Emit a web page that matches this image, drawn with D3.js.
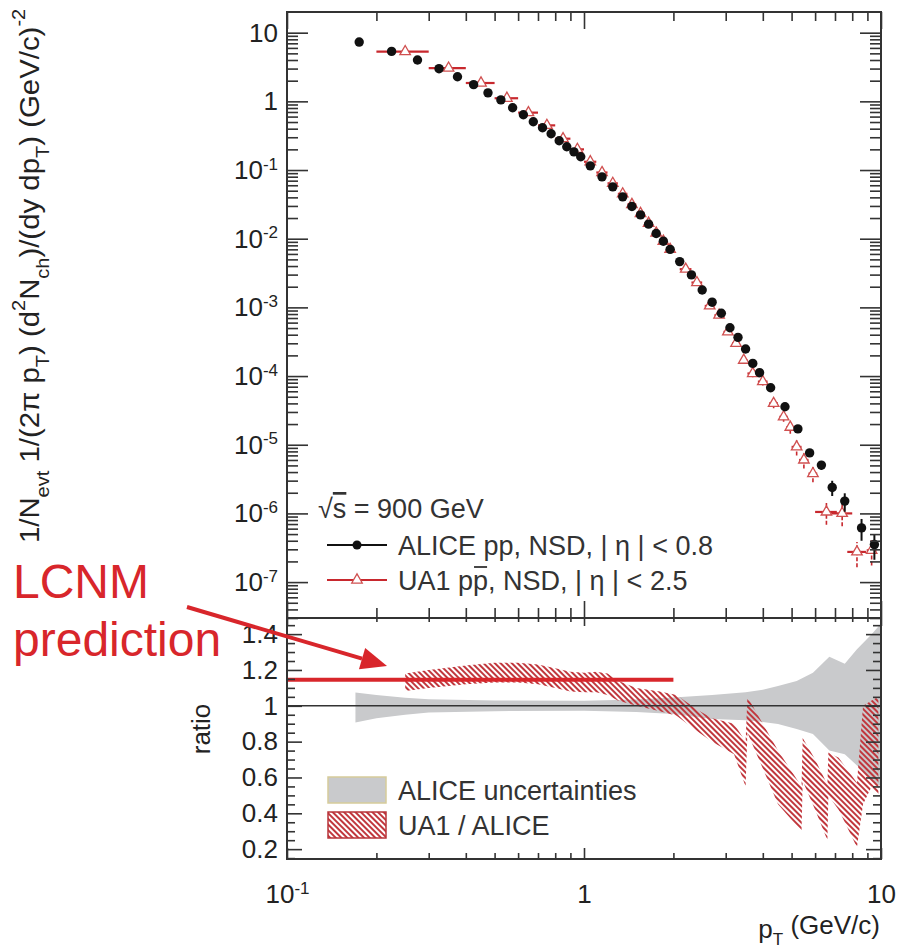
<!DOCTYPE html>
<html>
<head>
<meta charset="utf-8">
<script src="https://cdn.jsdelivr.net/npm/d3@7"></script>
<style>
body { margin: 0; background: #fff; }
svg { font-family: "Liberation Sans", Arial, sans-serif; }
</style>
</head>
<body>
<svg id="chart" width="901" height="951"></svg>
<script>
// ALICE pp, NSD, |eta| < 0.8  (sqrt(s) = 900 GeV)
var alicePt  = [0.175,0.225,0.275,0.325,0.375,0.425,0.475,0.525,0.575,0.625,0.675,0.725,0.775,0.825,0.875,0.925,0.975,
                1.05,1.15,1.25,1.35,1.45,1.55,1.65,1.75,1.85,1.95,
                2.1,2.3,2.5,2.7,2.9,3.1,3.3,3.5,3.7,3.9,
                4.25,4.75,5.25,5.75,6.3,6.85,7.55,8.6,9.5];
var aliceVal = [7.3,5.34,4.0,2.99,2.28,1.75,1.33,1.05,0.806,0.638,0.505,0.412,0.337,0.267,0.218,0.184,0.156,
                0.115,0.0796,0.0569,0.0407,0.0294,0.0222,0.0163,0.0119,0.0092,0.0070,
                0.00464,0.00297,0.00179,0.00119,0.00082,0.000506,0.000366,0.000248,0.000153,0.000112,
                6.75e-5,3.57e-5,1.7e-5,7.6e-6,5.05e-6,2.39e-6,1.51e-6,6.15e-7,3.52e-7];
// relative error, only visible at high pT
var aliceErr = [0,0,0,0,0,0,0,0,0,0,0,0,0,0,0,0,0,
                0,0,0,0,0,0,0,0,0,0,
                0,0,0,0,0,0,0,0,0,0,
                0,0,0.08,0.1,0.15,0.25,0.3,0.35,0.4];

// UA1 p pbar, NSD, |eta| < 2.5
var ua1Pt  = [0.25,0.35,0.45,0.55,0.65,0.75,0.85,0.95,1.05,1.15,1.25,1.35,1.45,1.55,1.65,1.75,1.85,1.95,
              2.2,2.4,2.65,2.85,3.05,3.25,3.45,3.7,4.0,4.35,4.7,4.95,5.2,5.5,5.9,6.55,7.4,8.3,9.3];
var ua1Val = [5.3,3.05,1.85,1.11,0.685,0.447,0.286,0.2,0.132,0.092,0.064,0.045,0.0315,0.0233,0.0168,0.0121,0.0092,0.0070,
              3.6e-3,2.3e-3,1.05e-3,7.7e-4,4.4e-4,3.0e-4,1.7e-4,1.09e-4,8.3e-5,4.0e-5,2.55e-5,1.8e-5,9.3e-6,6.0e-6,3.8e-6,1.05e-6,1.0e-6,2.75e-7,2.9e-7];
var ua1Dx  = [0.05,0.05,0.05,0.05,0.05,0.05,0.05,0.05,0.05,0.05,0.05,0.05,0.05,0.05,0.05,0.05,0.05,0.05,
              0.1,0.1,0.1,0.1,0.1,0.1,0.1,0.15,0.15,0.15,0.15,0.15,0.2,0.2,0.2,0.55,0.6,0.6,0.35];
var ua1Err = [0,0,0,0,0,0,0,0,0,0,0,0,0,0,0,0,0,0,
              0.05,0.05,0.08,0.08,0.08,0.1,0.1,0.12,0.12,0.15,0.15,0.2,0.25,0.25,0.25,0.35,0.35,0.4,0.4];

// lower panel: ALICE uncertainty band
var bandPt = [0.17,0.2,0.25,0.3,0.5,1.0,1.5,2.0,2.7,3.5,4.0,4.5,5.2,5.9,6.7,7.55,8.3,9.3,10];
var bandLo = [0.907,0.93,0.95,0.963,0.97,0.972,0.965,0.954,0.926,0.92,0.91,0.898,0.87,0.843,0.75,0.73,0.667,0.583,0.55];
var bandHi = [1.074,1.06,1.045,1.037,1.03,1.028,1.035,1.046,1.06,1.075,1.089,1.11,1.139,1.185,1.274,1.235,1.315,1.40,1.46];

// lower panel: UA1 / ALICE ratio band
var ratioPt = [0.25,0.3,0.4,0.5,0.6,0.7,0.8,0.9,1.0,1.1,1.2,1.3,1.5,1.8,2.05,2.4,2.7,3.2,3.5,3.55,
               4.0,4.5,5.4,5.45,6.0,6.6,6.65,7.2,8.3,8.7,9.3,9.8];
var ratioLo = [1.083,1.10,1.12,1.13,1.13,1.12,1.10,1.08,1.075,1.075,1.06,1.03,1.0,0.97,0.945,0.86,0.80,0.73,0.55,0.85,
               0.65,0.45,0.30,0.58,0.42,0.25,0.50,0.42,0.21,0.45,0.55,0.50];
var ratioHi = [1.18,1.20,1.225,1.24,1.24,1.23,1.21,1.19,1.185,1.19,1.18,1.14,1.10,1.08,1.06,0.98,0.93,0.90,0.80,1.05,
               0.90,0.75,0.55,0.82,0.70,0.56,0.74,0.71,0.57,1.0,1.03,1.05];

// LCNM prediction
var lcnmPt = [0.1, 2.0];
var lcnmRatio = [1.145, 1.145];

// ticks
var xTickVals = [0.1, 1, 10];
var xTickLabels = [["10","-1"], ["1",""], ["10",""]];
var yTopTickVals = [10, 1, 1e-1, 1e-2, 1e-3, 1e-4, 1e-5, 1e-6, 1e-7];
var yTopTickLabels = [["10",""],["1",""],["10","-1"],["10","-2"],["10","-3"],["10","-4"],["10","-5"],["10","-6"],["10","-7"]];
var yRatTickVals = [0.2, 0.4, 0.6, 0.8, 1, 1.2, 1.4];
var yRatTickLabels = ["0.2","0.4","0.6","0.8","1","1.2","1.4"];

var L = 287, R = 881, T1 = 12, B1 = 618, B2 = 859;
var red = "#d8262b", hatchRed = "#c1373d", ink = "#222";

var svg = d3.select("#chart");

var x = d3.scaleLog().domain([0.1, 10]).range([L, R]);
var yTop = d3.scaleLog().domain([3e-8, 20]).range([B1, T1]);
var yRat = d3.scaleLinear().domain([0.145, 1.49]).range([B2, B1]);

// minor tick positions
var xMinor = [];
[0.1, 1].forEach(function(d) { for (var m = 2; m <= 9; m++) xMinor.push(d * m); });
var yTopMinor = [];
[1e-8,1e-7,1e-6,1e-5,1e-4,1e-3,1e-2,1e-1,1,10].forEach(function(d) {
    for (var m = 2; m <= 9; m++) { var v = d * m; if (v > 3e-8 && v < 20) yTopMinor.push(v); }
});
var yRatMinor = [];
for (var k = 3; k <= 29; k++) { var v = k * 0.05; if (k % 4 != 0) yRatMinor.push(+v.toFixed(2)); }

var defs = svg.append("defs");
var pat = defs.append("pattern")
    .attr("id", "hatch")
    .attr("patternUnits", "userSpaceOnUse")
    .attr("width", 4).attr("height", 4)
    .attr("patternTransform", "rotate(-45)");
pat.append("line")
    .attr("x1", 1).attr("y1", -1).attr("x2", 1).attr("y2", 5)
    .attr("stroke", hatchRed).attr("stroke-width", 2);
defs.append("clipPath").attr("id", "clipLow")
    .append("rect").attr("x", L).attr("y", B1).attr("width", R - L).attr("height", B2 - B1);

// ---------- lower panel ----------
var low = svg.append("g").attr("clip-path", "url(#clipLow)");

var bandArea = d3.area()
    .x(function(d, i) { return x(bandPt[i]); })
    .y0(function(d, i) { return yRat(bandLo[i]); })
    .y1(function(d, i) { return yRat(bandHi[i]); });
low.append("path").attr("d", bandArea(bandPt)).attr("fill", "#c9cacc");

var ratioArea = d3.area()
    .x(function(d, i) { return x(ratioPt[i]); })
    .y0(function(d, i) { return yRat(ratioLo[i]); })
    .y1(function(d, i) { return yRat(ratioHi[i]); });
low.append("path").attr("d", ratioArea(ratioPt)).attr("fill", "url(#hatch)");

low.append("line")
    .attr("x1", L).attr("x2", R)
    .attr("y1", yRat(1)).attr("y2", yRat(1))
    .attr("stroke", "#333").attr("stroke-width", 1.5);

low.append("path")
    .attr("d", d3.line()
        .x(function(d, i) { return x(lcnmPt[i]); })
        .y(function(d, i) { return yRat(lcnmRatio[i]); })(lcnmPt))
    .attr("stroke", red).attr("stroke-width", 4).attr("fill", "none");

// ---------- upper panel markers ----------
var ua = svg.append("g");
ua1Pt.forEach(function(p, i) {
    ua.append("line")
        .attr("x1", x(p - ua1Dx[i])).attr("x2", x(p + ua1Dx[i]))
        .attr("y1", yTop(ua1Val[i])).attr("y2", yTop(ua1Val[i]))
        .attr("stroke", "#c8282e").attr("stroke-width", 2.2);
    if (ua1Err[i] > 0) {
        ua.append("line")
            .attr("x1", x(p)).attr("x2", x(p))
            .attr("y1", yTop(ua1Val[i] * (1 - ua1Err[i]))).attr("y2", yTop(ua1Val[i] * (1 + ua1Err[i])))
            .attr("stroke", "#c8282e").attr("stroke-width", 1.6).attr("stroke-dasharray", "4,2");
    }
});
var tri = d3.symbol().type(d3.symbolTriangle).size(48);
ua.selectAll("path.tri")
    .data(ua1Pt)
    .enter().append("path")
    .attr("class", "tri")
    .attr("d", tri)
    .attr("transform", function(d, i) { return "translate(" + x(d) + "," + yTop(ua1Val[i]) + ")"; })
    .attr("fill", "#fff").attr("stroke", "#d05050").attr("stroke-width", 1.3);

var al = svg.append("g");
alicePt.forEach(function(p, i) {
    if (aliceErr[i] > 0) {
        al.append("line")
            .attr("x1", x(p)).attr("x2", x(p))
            .attr("y1", yTop(aliceVal[i] * (1 - aliceErr[i]))).attr("y2", yTop(aliceVal[i] * (1 + aliceErr[i])))
            .attr("stroke", "#111").attr("stroke-width", 2);
    }
});
al.selectAll("circle")
    .data(alicePt)
    .enter().append("circle")
    .attr("cx", function(d) { return x(d); })
    .attr("cy", function(d, i) { return yTop(aliceVal[i]); })
    .attr("r", 4.7)
    .attr("fill", "#111");

// ---------- frames & ticks ----------
svg.append("rect").attr("x", L).attr("y", T1).attr("width", R - L).attr("height", B1 - T1)
    .attr("fill", "none").attr("stroke", "#333").attr("stroke-width", 2);
svg.append("rect").attr("x", L).attr("y", B1).attr("width", R - L).attr("height", B2 - B1)
    .attr("fill", "none").attr("stroke", "#333").attr("stroke-width", 2);

function tickSet(gen, scale, vals, size, tx, ty) {
    var a = gen(scale).tickValues(vals).tickSize(size).tickSizeOuter(0).tickFormat("");
    var g = svg.append("g").attr("transform", "translate(" + tx + "," + ty + ")").call(a);
    g.select(".domain").remove();
    g.selectAll("line").attr("stroke", "#333").attr("stroke-width", 1.6);
    return g;
}

// upper panel
tickSet(d3.axisLeft, yTop, yTopTickVals, -21, L, 0);
tickSet(d3.axisLeft, yTop, yTopMinor, -11, L, 0);
tickSet(d3.axisRight, yTop, yTopTickVals, -21, R, 0);
tickSet(d3.axisRight, yTop, yTopMinor, -11, R, 0);
tickSet(d3.axisTop, x, xTickVals, -17, 0, T1);
tickSet(d3.axisTop, x, xMinor, -9, 0, T1);
tickSet(d3.axisBottom, x, xTickVals, -17, 0, B1);
tickSet(d3.axisBottom, x, xMinor, -10, 0, B1);

// lower panel
tickSet(d3.axisLeft, yRat, yRatTickVals, -15, L, 0);
tickSet(d3.axisLeft, yRat, yRatMinor, -8, L, 0);
tickSet(d3.axisRight, yRat, yRatTickVals, -15, R, 0);
tickSet(d3.axisRight, yRat, yRatMinor, -8, R, 0);
tickSet(d3.axisTop, x, xTickVals, -8, 0, B1);
tickSet(d3.axisTop, x, xMinor, -4, 0, B1);
tickSet(d3.axisBottom, x, xTickVals, -11, 0, B2);
tickSet(d3.axisBottom, x, xMinor, -6, 0, B2);

// tick labels
function supLabels(g, labels) {
    g.selectAll(".tick text").each(function(d, i) {
        var t = d3.select(this);
        t.text(null);
        t.append("tspan").text(labels[i][0]);
        if (labels[i][1]) t.append("tspan").attr("dy", "-0.55em").attr("font-size", 17).text(labels[i][1]);
    });
}
var gy = svg.append("g").attr("transform", "translate(" + L + ",0)")
    .call(d3.axisLeft(yTop).tickValues(yTopTickVals).tickSize(0).tickPadding(9).tickFormat(""))
    .attr("font-size", 26).attr("font-family", null);
gy.select(".domain").remove();
gy.selectAll(".tick text").attr("fill", ink);
supLabels(gy, yTopTickLabels);

var gr = svg.append("g").attr("transform", "translate(" + L + ",0)")
    .call(d3.axisLeft(yRat).tickValues(yRatTickVals).tickSize(0).tickPadding(9)
        .tickFormat(function(d, i) { return yRatTickLabels[i]; }))
    .attr("font-size", 26).attr("font-family", null);
gr.select(".domain").remove();
gr.selectAll(".tick text").attr("fill", ink);

var gx = svg.append("g").attr("transform", "translate(0," + B2 + ")")
    .call(d3.axisBottom(x).tickValues(xTickVals).tickSize(0).tickPadding(26).tickFormat(""))
    .attr("font-size", 26).attr("font-family", null);
gx.select(".domain").remove();
gx.selectAll(".tick text").attr("fill", ink);
supLabels(gx, xTickLabels);

// axis titles
var xt = svg.append("text").attr("x", 880).attr("y", 938).attr("text-anchor", "end")
    .attr("font-size", 26).attr("fill", ink);
xt.append("tspan").text("p");
xt.append("tspan").attr("dy", "0.4em").attr("font-size", 17).text("T");
xt.append("tspan").attr("dy", "-0.4em").text(" (GeV/c)");

var yfs = 28;
var yt = svg.append("text").attr("transform", "translate(39,276) rotate(-90) scale(1.05,1)")
    .attr("text-anchor", "middle").attr("font-size", yfs).attr("fill", ink);
[["1/N", 0], ["evt", 1], [" 1/(2\u03c0 p", 0], ["T", 1], [") (d", 0], ["2", 2], ["N", 0], ["ch", 1],
 [")/(dy dp", 0], ["T", 1], [") (GeV/c)", 0], ["-2", 2]].forEach(function(s, i, arr) {
    var prev = i > 0 ? arr[i - 1][1] : 0;
    var shift = { 0: 0, 1: 0.35, 2: -0.5 };
    var dy = (shift[s[1]] - shift[prev]) * yfs;
    yt.append("tspan").attr("dy", dy).attr("font-size", s[1] ? 19 : yfs).text(s[0]);
});

svg.append("text").attr("transform", "translate(210,729) rotate(-90)")
    .attr("text-anchor", "middle").attr("font-size", 26).attr("fill", ink).text("ratio");

// upper legend
var lg = svg.append("g").attr("font-size", 27).attr("fill", "#333");
var t1 = lg.append("text").attr("x", 318).attr("y", 518);
t1.append("tspan").text("\u221a");
t1.append("tspan").style("text-decoration", "overline").text("s");
t1.append("tspan").text(" = 900 GeV");

lg.append("line").attr("x1", 327).attr("x2", 387).attr("y1", 545).attr("y2", 545)
    .attr("stroke", "#111").attr("stroke-width", 2);
lg.append("circle").attr("cx", 357).attr("cy", 545).attr("r", 4.5).attr("fill", "#111");
lg.append("text").attr("x", 398).attr("y", 555).text("ALICE pp, NSD, | \u03b7 | < 0.8");

lg.append("line").attr("x1", 327).attr("x2", 387).attr("y1", 580).attr("y2", 580)
    .attr("stroke", "#c8282e").attr("stroke-width", 2);
lg.append("path").attr("d", tri).attr("transform", "translate(357,580)")
    .attr("fill", "#fff").attr("stroke", "#d05050").attr("stroke-width", 1.3);
var t3 = lg.append("text").attr("x", 398).attr("y", 590).text("UA1 pp, NSD, | \u03b7 | < 2.5");
// bar over the second p (antiproton)
var n3 = t3.node();
var pb0 = n3.getStartPositionOfChar(5).x, pb1 = n3.getEndPositionOfChar(5).x;
lg.append("line").attr("x1", pb0 + 1).attr("x2", pb1 - 1).attr("y1", 567).attr("y2", 567)
    .attr("stroke", "#333").attr("stroke-width", 1.8);

// lower legend
lg.append("rect").attr("x", 328).attr("y", 777).attr("width", 58).attr("height", 26)
    .attr("fill", "#c9cacc").attr("stroke", "#d6cc9a").attr("stroke-width", 1.5);
lg.append("text").attr("x", 398).attr("y", 800).text("ALICE uncertainties");
lg.append("rect").attr("x", 328).attr("y", 812).attr("width", 58).attr("height", 26)
    .attr("fill", "url(#hatch)").attr("stroke", "#b8353a").attr("stroke-width", 1.5);
lg.append("text").attr("x", 398).attr("y", 835).text("UA1 / ALICE");

// LCNM annotation
var ann = svg.append("g").attr("fill", red);
ann.append("text").attr("x", 13).attr("y", 598).attr("font-size", 48).text("LCNM");
ann.append("text").attr("x", 13).attr("y", 656).attr("font-size", 48).text("prediction");
var a0 = [187, 607], a1 = [387, 666];
var dx = a1[0] - a0[0], dy = a1[1] - a0[1], len = Math.sqrt(dx * dx + dy * dy);
var ux = dx / len, uy = dy / len, hl = 26, hw = 11;
var bx = a1[0] - hl * ux, by = a1[1] - hl * uy;
ann.append("line").attr("x1", a0[0]).attr("y1", a0[1]).attr("x2", bx).attr("y2", by)
    .attr("stroke", red).attr("stroke-width", 4);
ann.append("path").attr("d", "M" + a1[0] + "," + a1[1] +
    "L" + (bx - hw * uy) + "," + (by + hw * ux) +
    "L" + (bx + hw * uy) + "," + (by - hw * ux) + "Z");
</script>
</body>
</html>
